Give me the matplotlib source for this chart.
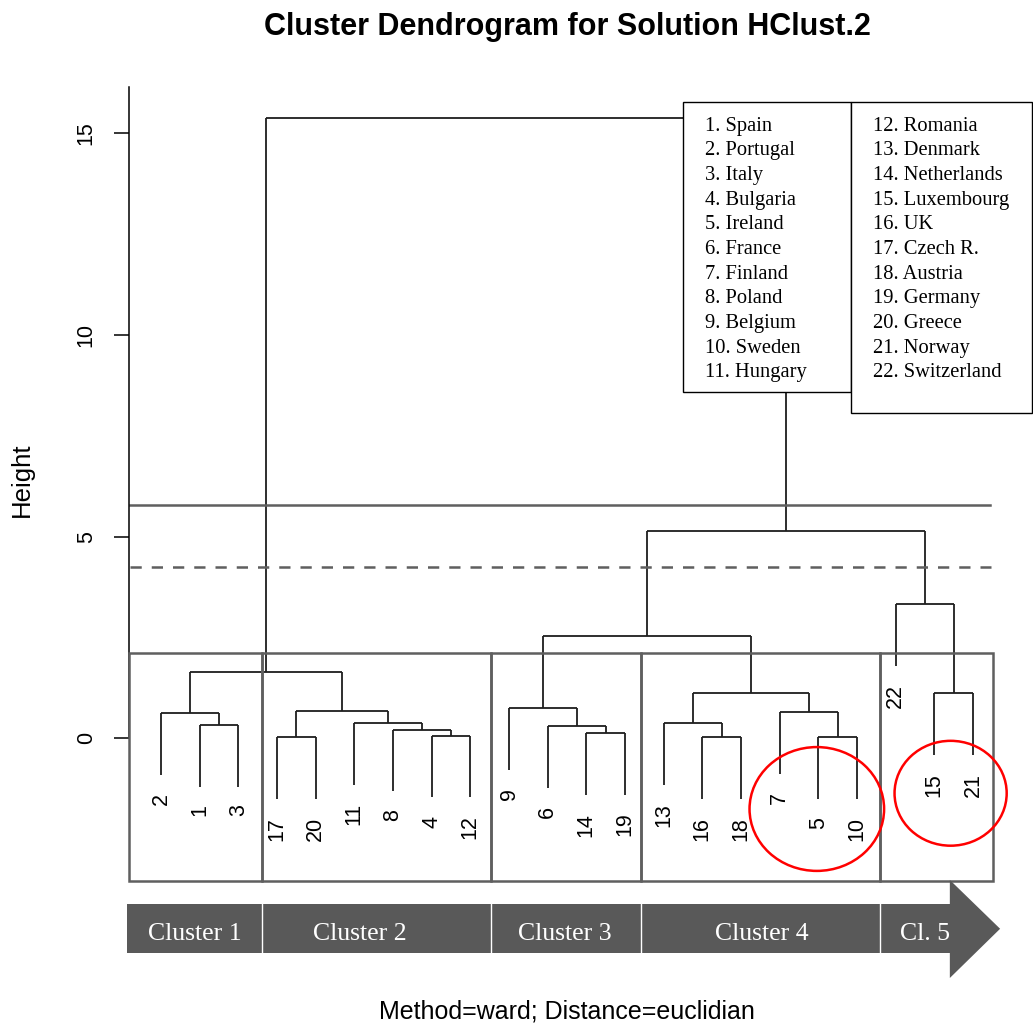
import numpy as np
import matplotlib
matplotlib.use('Agg')
import matplotlib.pyplot as plt
from matplotlib.patches import Rectangle, Ellipse, Polygon

# hclust-style merge table: negative = country id, positive = earlier merge row (1-based)
merge = [(-17, -20), (-16, -18), (-5, -10), (-4, -12), (-14, -19), (-8, 4),
         (-6, 5), (-1, -3), (-13, 2), (-11, 6), (-2, 8), (-7, 3), (1, 10),
         (-9, 7), (9, 12), (-15, -21), (11, 13), (14, 15), (-22, 16),
         (18, 19), (17, 20)]
height = [0.03, 0.03, 0.03, 0.07, 0.14, 0.22, 0.31, 0.34, 0.38, 0.39, 0.63,
          0.65, 0.67, 0.75, 1.12, 1.12, 1.64, 2.54, 3.33, 5.15, 15.37]

countries = ['Spain', 'Portugal', 'Italy', 'Bulgaria', 'Ireland', 'France',
             'Finland', 'Poland', 'Belgium', 'Sweden', 'Hungary', 'Romania',
             'Denmark', 'Netherlands', 'Luxembourg', 'UK', 'Czech R.',
             'Austria', 'Germany', 'Greece', 'Norway', 'Switzerland']

cluster_names = ['Cluster 1', 'Cluster 2', 'Cluster 3', 'Cluster 4', 'Cl. 5']
cut_solid = 5.78
cut_dashed = 4.25

LINE = '#1e1e1e'
GREY = '#5f5f5f'
BAND = '#595959'
SANS = 'Liberation Sans'
SERIF = 'Liberation Serif'


def leaf_order(node):
    if node < 0:
        return [-node]
    a, b = merge[node - 1]
    return leaf_order(a) + leaf_order(b)


order = leaf_order(len(merge))
pos = {leaf: i + 1 for i, leaf in enumerate(order)}
hang = 0.1 * (max(height) - min(height))

fig = plt.figure(figsize=(10.33, 10.25), dpi=100)
ax = fig.add_axes([0.1244, 0.0439, 0.849, 0.8712])
ax.set_xlim(0.16, 22.84)
ax.set_ylim(-5.99, 16.15)

# dendrogram
node_x = {}
for i, (a, b) in enumerate(merge):
    h = height[i]
    xs = []
    for c in (a, b):
        if c < 0:
            x, bottom = pos[-c], h - hang
            ax.annotate(str(-c), (x, bottom), xytext=(0, -13),
                        textcoords='offset points', rotation=90,
                        ha='center', va='top', fontsize=15.5, family=SANS)
        else:
            x, bottom = node_x[c], height[c - 1]
        ax.plot([x, x], [bottom, h], color=LINE, lw=1.3, solid_capstyle='butt')
        xs.append(x)
    ax.plot(xs, [h, h], color=LINE, lw=1.3, solid_capstyle='butt')
    node_x[i + 1] = sum(xs) / 2

# cut lines
ax.plot([0.2, 22.45], [cut_solid] * 2, color=GREY, lw=1.8)
ax.plot([0.2, 22.47], [cut_dashed] * 2, color=GREY, lw=1.8, dashes=(4.5, 4))

# cluster boxes
box_edges = [0.17, 3.61, 9.53, 13.41, 19.59, 22.52]
for x0, x1 in zip(box_edges[:-1], box_edges[1:]):
    ax.add_patch(Rectangle((x0, -3.53), x1 - x0, 5.65, fill=False,
                           ec=GREY, lw=1.8, clip_on=False, zorder=3))

# red circles
ax.add_patch(Ellipse((17.96, -1.75), 3.48, 3.07, fill=False, ec='red',
                     lw=1.8, clip_on=False, zorder=4))
ax.add_patch(Ellipse((21.42, -1.36), 2.90, 2.60, fill=False, ec='red',
                     lw=1.8, clip_on=False, zorder=4))

# arrow band with cluster names
ax.add_patch(Rectangle((0.13, -5.32), 21.40 - 0.13, 1.21, fc=BAND, ec='none',
                       clip_on=False, zorder=3))
ax.add_patch(Polygon([(21.40, -3.51), (22.70, -4.72), (21.40, -5.94)],
                     closed=True, fc=BAND, ec='none', clip_on=False, zorder=3))
for x in box_edges[1:-1]:
    ax.plot([x, x], [-4.11, -5.32], color='white', lw=1, zorder=4, clip_on=False)
label_x = [1.88, 6.15, 11.45, 16.55, 20.75]
for x, name in zip(label_x, cluster_names):
    ax.text(x, -4.86, name, color='white', ha='center', va='center',
            fontsize=18.5, family=SERIF, zorder=5, clip_on=False)

# country key
ax.add_patch(Rectangle((14.51, 8.58), 18.84 - 14.51, 15.78 - 8.58, fc='white',
                       ec='black', lw=1.0, clip_on=False, zorder=6))
ax.add_patch(Rectangle((18.84, 8.06), 23.52 - 18.84, 15.78 - 8.06, fc='white',
                       ec='black', lw=1.0, clip_on=False, zorder=6))
for i, name in enumerate(countries):
    col, row = divmod(i, 11)
    ax.text([15.07, 19.42][col], 15.18 - row * 0.6117, f'{i + 1}. {name}',
            ha='left', va='center', fontsize=14.8, family=SERIF, zorder=7,
            clip_on=False)

# axis
for s in ['top', 'right', 'bottom']:
    ax.spines[s].set_visible(False)
ax.spines['left'].set_bounds(0, 16.15)
ax.spines['left'].set_linewidth(1.1)
ax.set_xticks([])
ax.set_yticks([0, 5, 10, 15])
ax.tick_params(axis='y', length=10.8, width=1.1, pad=12, labelsize=15.5)
for t in ax.get_yticklabels():
    t.set_rotation(90)
    t.set_va('center')
    t.set_family(SANS)

fig.text(567 / 1033, 1 - 27 / 1025, 'Cluster Dendrogram for Solution HClust.2',
         ha='center', va='center', fontsize=22, weight='bold', family=SANS)
fig.text(22 / 1033, 1 - 480 / 1025, 'Height', rotation=90, ha='center',
         va='center', fontsize=18.5, family=SANS)
fig.text(567 / 1033, 1 - 1012 / 1025, 'Method=ward; Distance=euclidian',
         ha='center', va='center', fontsize=18, family=SANS)

fig.savefig('out.png', dpi=100)
